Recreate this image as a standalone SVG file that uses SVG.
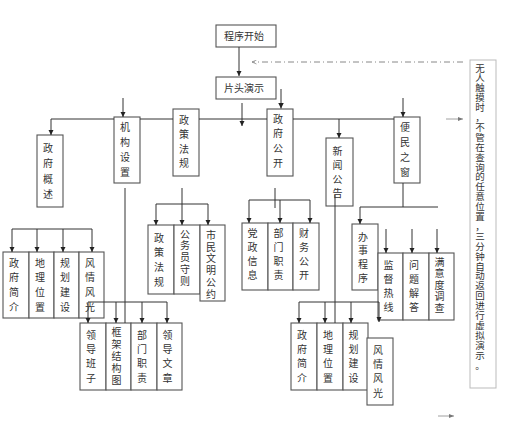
<svg xmlns="http://www.w3.org/2000/svg" width="512" height="432" viewBox="0 0 512 432">
<style>
.box{fill:#fff;stroke:#555;stroke-width:1.1}
.t{font-family:"Noto Sans CJK SC","Noto Sans",sans-serif;font-size:10px;fill:#333;text-anchor:middle}
.th{font-family:"Noto Sans CJK SC","Noto Sans",sans-serif;font-size:10px;fill:#333;text-anchor:middle}
.ln{stroke:#333;stroke-width:1;fill:none}
.ar{stroke:#333;stroke-width:1;fill:none;marker-end:url(#ah)}
.gr{stroke:#888;stroke-width:0.8;fill:none;marker-end:url(#ahg)}
.note{fill:#fff;stroke:#bbb;stroke-width:1}
.nt{font-family:"Noto Sans CJK SC","Noto Sans",sans-serif;font-size:9.5px;fill:#333;text-anchor:middle}
</style>
<defs>
<marker id="ah" viewBox="0 0 10 10" refX="10" refY="5" markerWidth="5.5" markerHeight="5.5" markerUnits="userSpaceOnUse" orient="auto"><path d="M0,0 L10,5 L0,10 z" fill="#222"/></marker>
<marker id="ahg" viewBox="0 0 10 10" refX="10" refY="5" markerWidth="5" markerHeight="5" markerUnits="userSpaceOnUse" orient="auto"><path d="M0,1 L10,5 L0,9 z" fill="#777"/></marker>
<marker id="ahd" viewBox="0 0 10 10" refX="10" refY="5" markerWidth="5" markerHeight="5" markerUnits="userSpaceOnUse" orient="auto"><path d="M1,1 L10,5 L1,9" fill="none" stroke="#888" stroke-width="1.5"/></marker>
</defs>
<rect width="512" height="432" fill="#fff"/>

<g id="nodes">
<g id="n-start"><rect class="box" x="216" y="25" width="60" height="22"/><text class="th" x="244" y="39.5">程序开始</text></g>
<g id="n-intro"><rect class="box" x="216" y="77" width="60" height="22"/><text class="th" x="244" y="91.5">片头演示</text></g>

<g id="n-gaishu"><rect class="box" x="37" y="135" width="26" height="72"/><text class="t" x="48 48 48 48" y="152 167 183 198">政府概述</text></g>
<g id="n-jigou"><rect class="box" x="114" y="117" width="26" height="66"/><text class="t" x="125 125 125 125" y="130.5 145.5 160.5 175.5">机构设置</text></g>
<g id="n-zhengce"><rect class="box" x="173" y="109" width="26" height="67"/><text class="t" x="184 184 184 184" y="123.5 138 152.5 166.5">政策法规</text></g>
<g id="n-gongkai"><rect class="box" x="267" y="109" width="26" height="67"/><text class="t" x="278 278 278 278" y="122.5 137 152 166.5">政府公开</text></g>
<g id="n-xinwen"><rect class="box" x="326" y="138" width="27" height="68"/><text class="t" x="337.5 337.5 337.5 337.5" y="154.5 168.5 182.5 196.5">新闻公告</text></g>
<g id="n-bianmin"><rect class="box" x="394" y="117" width="26" height="66"/><text class="t" x="405 405 405 405" y="130.5 145.5 160.5 175.5">便民之窗</text></g>

<g id="n-g1"><rect class="box" x="3" y="252" width="26" height="66"/><text class="t" x="14 14 14 14" y="266.5 281 296 310.5">政府简介</text></g>
<g id="n-g2"><rect class="box" x="29" y="252" width="25" height="66"/><text class="t" x="40 40 40 40" y="266.5 281 296 310.5">地理位置</text></g>
<g id="n-g3"><rect class="box" x="54" y="252" width="25" height="66"/><text class="t" x="65 65 65 65" y="266.5 281 296 310.5">规划建设</text></g>
<g id="n-g4"><rect class="box" x="79" y="252" width="25" height="66"/><text class="t" x="90 90 90 90" y="266.5 281 296 310.5">风情风光</text></g>

<g id="n-j1"><rect class="box" x="80" y="323" width="26" height="67"/><text class="t" x="91 91 91 91" y="338.5 353 367 381.5">领导班子</text></g>
<g id="n-j2"><rect class="box" x="106" y="323" width="25" height="67"/><text class="t" x="116.5 116.5 116.5 116.5 116.5" y="335.5 347.5 359.5 371.5 383.5">框架结构图</text></g>
<g id="n-j3"><rect class="box" x="131" y="323" width="26" height="67"/><text class="t" x="142 142 142 142" y="338.5 353 367 381.5">部门职责</text></g>
<g id="n-j4"><rect class="box" x="157" y="323" width="25" height="67"/><text class="t" x="167.5 167.5 167.5 167.5" y="338.5 353 367 381.5">领导文章</text></g>

<g id="n-z1"><rect class="box" x="148" y="225" width="26" height="69"/><text class="t" x="159 159 159 159" y="241.5 256 271 285.5">政策法规</text></g>
<g id="n-z2"><rect class="box" x="174" y="225" width="26" height="69"/><text class="t" x="185 185 185 185 185" y="237.5 249 261 273 284.5">公务员守则</text></g>
<g id="n-z3"><rect class="box" x="200" y="225" width="25" height="76"/><text class="t" x="211 211 211 211 211 211" y="238.5 250.5 262 274 285.5 297.5">市民文明公约</text></g>

<g id="n-k1"><rect class="box" x="242" y="223" width="26" height="67"/><text class="t" x="252.5 252.5 252.5 252.5" y="236.5 250.5 264.5 278.5">党政信息</text></g>
<g id="n-k2"><rect class="box" x="268" y="223" width="25" height="67"/><text class="t" x="278.5 278.5 278.5 278.5" y="236.5 250.5 264.5 278.5">部门职责</text></g>
<g id="n-k3"><rect class="box" x="293" y="223" width="26" height="67"/><text class="t" x="304 304 304 304" y="236.5 250.5 264.5 278.5">财务公开</text></g>

<g id="n-x1"><rect class="box" x="291" y="323" width="26" height="67"/><text class="t" x="302 302 302 302" y="338.5 353 367 381.5">政府简介</text></g>
<g id="n-x2"><rect class="box" x="317" y="323" width="26" height="67"/><text class="t" x="328 328 328 328" y="338.5 353 367 381.5">地理位置</text></g>
<g id="n-x3"><rect class="box" x="343" y="323" width="25" height="67"/><text class="t" x="353.5 353.5 353.5 353.5" y="338.5 353 367 381.5">规划建设</text></g>
<g id="n-x4"><rect class="box" x="367" y="338" width="26" height="67"/><text class="t" x="378 378 378 378" y="353.5 368 382 396.5">风情风光</text></g>

<g id="n-b1"><rect class="box" x="352" y="224" width="26" height="66"/><text class="t" x="363 363 363 363" y="240.5 254 268 281.5">办事程序</text></g>
<g id="n-b2"><rect class="box" x="378" y="253" width="25" height="67"/><text class="t" x="388.5 388.5 388.5 388.5" y="268.5 282.5 296.5 310.5">监督热线</text></g>
<g id="n-b3"><rect class="box" x="403" y="253" width="26" height="67"/><text class="t" x="414 414 414 414" y="268.5 282.5 296.5 310.5">问题解答</text></g>
<g id="n-b4"><rect class="box" x="429" y="253" width="25" height="67"/><text class="t" x="439.5 439.5 439.5 439.5 439.5" y="265.5 277 288.5 300 311.5">满意度调查</text></g>

<g id="n-note"><rect class="note" x="470" y="60" width="26" height="328"/><text class="nt" x="480 480 480 480 480 480 480 480 480 480 480 480 480 480 480 480 480 480 480 480 480 480 480 480 480 480 480 480 480 480 480" y="71.5 81.4 91.3 101.2 111.1 121 130.9 140.8 150.7 160.6 170.5 180.4 190.3 200.2 210.1 220 229.9 239.8 249.7 259.6 269.5 279.4 289.3 299.2 309.1 319 328.9 338.8 348.7 358.6 368.5">无人触摸时，不管在查询的任意位置，三分钟自动返回进行虚拟演示。</text></g>
</g>

<g id="connectors">
<line class="ar" x1="239" y1="47" x2="239" y2="76"/>
<line x1="463" y1="62" x2="252" y2="62" stroke="#888" stroke-width="1" stroke-dasharray="6,3,1,3" marker-end="url(#ahd)"/>
<line class="gr" x1="446" y1="119" x2="463" y2="119"/>
<line class="gr" x1="438" y1="416" x2="454" y2="416"/>

<path class="ln" d="M51,119 H114 M140,119 H173 M199,119 H267 M293,119 H394"/>
<path class="ar" d="M51,119 V135"/>
<line class="ar" x1="242" y1="103" x2="242" y2="126"/>
<line class="ar" x1="281" y1="89" x2="281" y2="108.5"/>
<line class="ar" x1="123" y1="98" x2="123" y2="117"/>
<line class="ar" x1="403" y1="98" x2="403" y2="117"/>
<line class="ar" x1="339" y1="119" x2="339" y2="138"/>

<path class="ln" d="M12,229 H92"/>
<line class="ar" x1="12" y1="229" x2="12" y2="252"/>
<line class="ar" x1="37" y1="229" x2="37" y2="252"/>
<line class="ar" x1="63" y1="229" x2="63" y2="252"/>
<line class="ar" x1="92" y1="229" x2="92" y2="252"/>

<line class="ln" x1="125" y1="188" x2="125" y2="323"/>
<path class="ln" d="M88,302 H167"/>
<line class="ar" x1="88" y1="302" x2="88" y2="323"/>
<line class="ar" x1="116" y1="302" x2="116" y2="323"/>
<line class="ar" x1="142" y1="302" x2="142" y2="323"/>
<line class="ar" x1="167" y1="302" x2="167" y2="323"/>

<line class="ar" x1="182" y1="188" x2="182" y2="225"/>
<path class="ln" d="M156,204 H208"/>
<line class="ar" x1="156" y1="204" x2="156" y2="225"/>
<line class="ar" x1="208" y1="204" x2="208" y2="225"/>

<line class="ln" x1="275" y1="188" x2="275" y2="208"/>
<path class="ln" d="M249,200 H310"/>
<line class="ar" x1="249" y1="200" x2="249" y2="223"/>
<line class="ar" x1="280" y1="200" x2="280" y2="223"/>
<line class="ar" x1="310" y1="200" x2="310" y2="223"/>

<line class="ln" x1="335" y1="195" x2="335" y2="323"/>
<path class="ln" d="M299,302 H379"/>
<line class="ar" x1="299" y1="302" x2="299" y2="323"/>
<line class="ar" x1="325" y1="302" x2="325" y2="323"/>
<line class="ar" x1="351" y1="302" x2="351" y2="323"/>
<line class="ar" x1="379" y1="302" x2="379" y2="322"/>

<line class="ln" x1="403" y1="183" x2="403" y2="207"/>
<path class="ln" d="M360,207 H438"/>
<line class="ar" x1="360" y1="207" x2="360" y2="224"/>
<line class="ar" x1="386" y1="229" x2="386" y2="253"/>
<line class="ar" x1="412" y1="229" x2="412" y2="253"/>
<line class="ar" x1="437" y1="229" x2="437" y2="253"/>
</g>
</svg>
